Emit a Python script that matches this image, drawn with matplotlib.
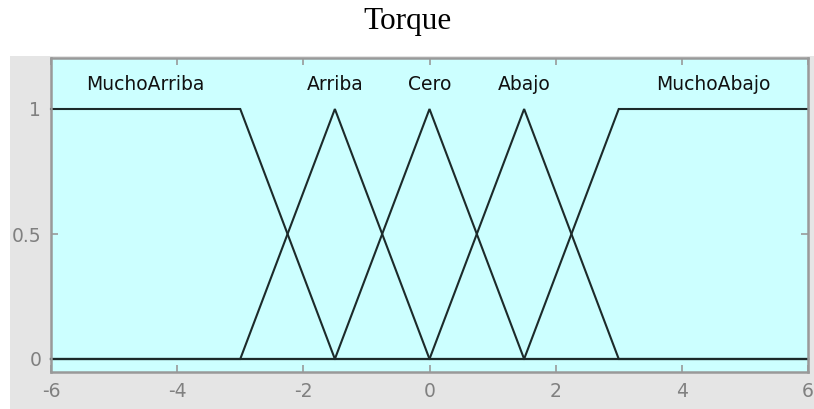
import matplotlib
matplotlib.use("Agg")
import matplotlib.pyplot as plt
from matplotlib.patches import Rectangle
import numpy as np

title = "Torque"
mf_names = ["MuchoArriba", "Arriba", "Cero", "Abajo", "MuchoAbajo"]
# breakpoints (x) and membership values (y) for each membership function
mf_x = [
    [-6, -3, -1.5, 6],
    [-6, -3, -1.5, 0, 6],
    [-6, -1.5, 0, 1.5, 6],
    [-6, 0, 1.5, 3, 6],
    [-6, 1.5, 3, 6],
]
mf_y = [
    [1, 1, 0, 0],
    [0, 0, 1, 0, 0],
    [0, 0, 1, 0, 0],
    [0, 0, 1, 0, 0],
    [0, 0, 1, 1],
]
label_x = [-4.5, -1.5, 0, 1.5, 4.5]
label_y = 1.1
xticks = [-6, -4, -2, 0, 2, 4, 6]
yticks = [0, 0.5, 1]
ytick_labels = ["0", "0.5", "1"]

W, H = 814, 409
fig = plt.figure(figsize=(W / 100, H / 100), dpi=100)
fig.patch.set_facecolor("white")

# gray panel behind the axes
fig.patches.append(Rectangle((10 / W, 0), 1 - 10 / W, 1 - 56 / H,
                             transform=fig.transFigure, facecolor="#e5e5e5",
                             edgecolor="none", zorder=0))

ax = fig.add_axes([51 / W, 1 - 372 / H, (808 - 51) / W, (372 - 58) / H])
ax.set_facecolor("#ccffff")
ax.set_zorder(1)

line_color = "#1c2a2a"
for xs, ys in zip(mf_x, mf_y):
    ax.plot(xs, ys, color=line_color, lw=1.5, solid_joinstyle="miter", clip_on=False)

for name, lx in zip(mf_names, label_x):
    ax.text(lx, label_y, name, ha="center", va="center", fontsize=13.5,
            family="DejaVu Sans", color="#111111")

ax.set_xlim(-6, 6)
ax.set_ylim(-0.052, 1.204)
ax.set_xticks(xticks)
ax.set_xticklabels([str(t) for t in xticks])
ax.set_yticks(yticks)
ax.set_yticklabels(ytick_labels)
ax.tick_params(direction="in", length=5, width=1.2, color="#999999",
               labelcolor="#808080", labelsize=13.5, top=True, right=True,
               pad=7)
for s in ax.spines.values():
    s.set_color("#999999")
    s.set_linewidth(1.8)

fig.text(0.5, 1 - 22 / H, title, ha="center", va="center",
         family="Liberation Serif", fontsize=22.5, color="black")

fig.savefig("out.png", dpi=100, facecolor="white")
